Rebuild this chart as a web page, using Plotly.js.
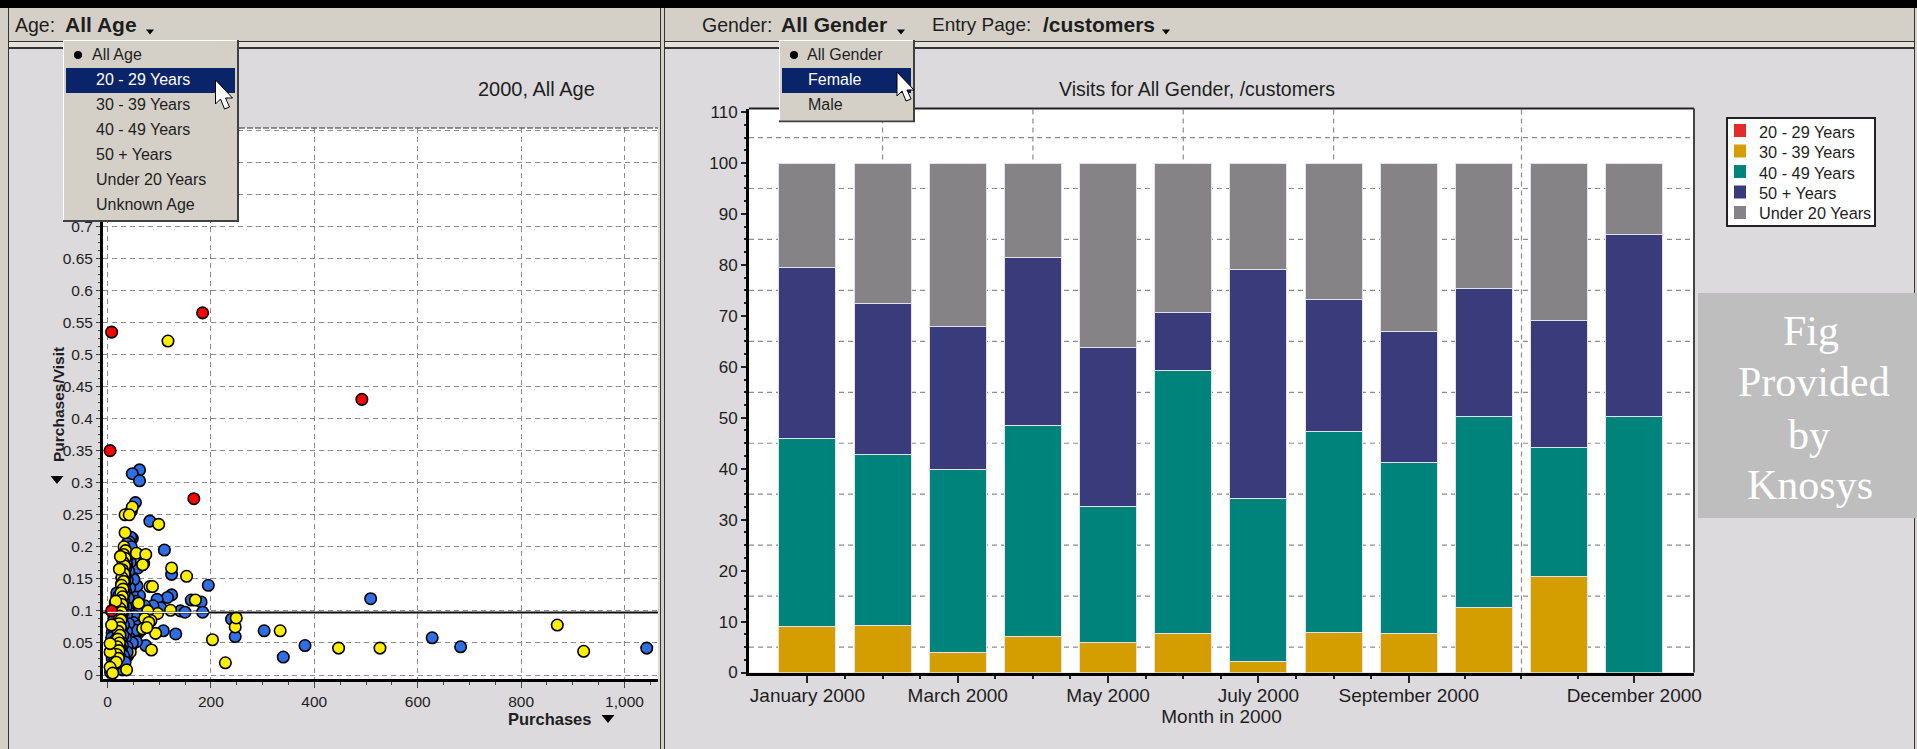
<!DOCTYPE html>
<html>
<head>
<meta charset="utf-8">
<title>Visits and purchases by age, 2000</title>
<script src="https://cdn.plot.ly/plotly-3.0.1.min.js"></script>
<style>html,body{margin:0;padding:0;background:#dcdadd;overflow:hidden}#chart{width:1917px;height:749px}</style>
</head>
<body>
<div id="chart"></div>
<script>
// Monthly share of visits per age band (stacked to 100)
const months = ['January 2000','February 2000','March 2000','April 2000','May 2000','June 2000',
  'July 2000','August 2000','September 2000','October 2000','November 2000','December 2000'];
const ageBands = ['20 - 29 Years','30 - 39 Years','40 - 49 Years','50 + Years','Under 20 Years'];
const bandColors = ['#e32b2b','#d49e00','#00837a','#393b7b','#858385'];
const age20to29 = [0,0,0,0,0,0,0,0,0,0,0,0];
const age30to39 = [9.0,9.3,3.9,7.0,5.9,7.6,2.2,7.9,7.6,12.8,18.9,0];
const age40to49 = [36.9,33.4,35.9,41.4,26.7,51.7,31.9,39.5,33.7,37.5,25.3,50.3];
const age50plus = [33.5,29.7,28.2,33.0,31.2,11.4,45.0,25.9,25.7,25.1,24.8,35.7];
const ageUnder20 = [20.6,27.6,32.0,18.6,36.2,29.3,20.9,26.7,33.0,24.6,31.0,14.0];

// Month axis: labelled ticks, unlabelled ticks and vertical guide lines (month index)
const monthTicks = [0,2,4,6,8,11];
const monthMinorTicks = [0.5,1,1.5,2.5,3,3.5,4.5,5,5.5,6.5,7,7.5,8.75,9.5,10.25];
const monthGuides = [1,3,5,7,9.5];
const shareGuides = [5,15,25,35,45,55,65,75,85,95,105];

// Purchases vs purchases per visit, [purchases, purchases/visit]
const redPoints = [[492,.430],[5,.35],[167,.275],[8,.10],[8,.535],[184,.565]];
// Yellow customers hidden behind the blue ones
const yellowLower = [[36,.198],[38,.188],[34,.176],[30,.165],[36,.160],[28,.152],[33,.150],[27,.142],[31,.138],
  [36,.134],[29,.126],[33,.122],[26,.118],[30,.110],[38,.115],[44,.110],[27,.100],[34,.104],[52,.108],
  [25,.090],[32,.092],[40,.095],[48,.098],[66,.096],[28,.083],[36,.084],[45,.086],[55,.088],[30,.074],[38,.076],
  [47,.078],[58,.080],[27,.063],[34,.064],[42,.066],[52,.068],[60,.066],[31,.054],[38,.055],[46,.056],[54,.058],
  [33,.044],[40,.046],[48,.048],[35,.035],[42,.038],[31,.026],[30,.186],[32,.17],[34,.144],[30,.13],[35,.112],
  [30,.098],[36,.07],[33,.06],[29,.04],[37,.05],[27,.03],[34,.028],[39,.03],[18,.122],[16,.108],[20,.102],[12,.095],
  [18,.092],[14,.085],[16,.070],[14,.060],[12,.052],[8,.042],[15,.040]];
// Tightly packed customers that make up the near-solid column and the wedge below it
const yellowColumn = [[37,.196],[33,.19],[36,.184],[32,.178],[35,.172],[31,.166],[35,.16],[30,.154],[34,.148],[37,.142],
  [30,.14],[33,.134],[36,.128],[29,.128],[33,.122],[37,.116],[28,.116],[32,.11],[36,.104],[27,.104],[31,.098],[35,.092],
  [26,.092],[30,.086],[34,.08],[39,.084],[25,.082],[29,.076],[33,.07],[38,.072],[24,.07],[28,.064],[32,.058],[37,.06],
  [42,.062],[23,.058],[27,.052],[31,.046],[36,.05],[41,.052],[46,.054],[22,.046],[26,.04],[30,.034],[35,.04],[40,.042],
  [45,.044],[50,.05],[21,.036],[25,.03],[29,.024],[34,.03],[39,.032],[44,.036],[20,.026],[24,.02],[28,.016],[33,.022],
  [19,.016],[23,.012],[15,.008],[13,.03],[17,.04]];
const bluePoints = [[62,.32],[48,.314],[62,.303],[54,.269],[46,.256],[82,.24],[110,.195],[124,.157],[195,.14],
  [509,.119],[240,.087],[247,.06],[303,.069],[340,.028],[382,.046],[628,.058],[683,.044],[1043,.042],
  [132,.064],[108,.069],[74,.046],[29,.008],[162,.117],[181,.114],[184,.098],[124,.125],[116,.121],[96,.118],
  [141,.1],[150,.098],[62,.124],[48,.128],[57,.139],[51,.149],[59,.167],[48,.213],[70,.174],[103,.105],[88,.108],
  [45,.215],[42,.208],[38,.205],[46,.20],[44,.176],[41,.162],[43,.136],[18,.128],[22,.124],[15,.112],[21,.108],
  [46,.112],[55,.115],[64,.105],[72,.108],[50,.104],[58,.098],[13,.096],[19,.095],[44,.096],[52,.092],[12,.085],
  [17,.08],[50,.082],[60,.076],[64,.07],[9,.066],[14,.065],[18,.068],[44,.07],[54,.07],[8,.058],[12,.046],[17,.056],
  [42,.058],[56,.052],[10,.04],[15,.036],[48,.05],[9,.026],[14,.024],[10,.012],[17,.018],[6,.004],
  [40,.186],[37,.172],[38,.148],[35,.13],[40,.12],[36,.106],[37,.094],[41,.08],[37,.068],[35,.058],[38,.044],[38,.036]];
// Final layers of the column: closely stacked outlines read as an almost black band
const bandBlue = [[36,.176],[35,.166],[34,.156],[33,.146],[33,.136],[32,.126],[31,.116],[30,.106],[29,.096],[28,.086],
  [31,.078],[27,.07],[30,.062],[26,.054],[29,.046],[25,.042],[28,.034],[31,.03],[24,.028],[27,.022],[34,.02]];
const bandYellow = [[32,.2],[35,.194],[31,.188],[34,.182],[30,.176],[33,.17],[29,.164],[32,.158],[28,.152],[31,.146],
  [27,.14],[30,.134],[26,.128],[29,.122],[25,.116],[28,.11],[24,.104],[27,.098],[23,.092],[26,.086],[22,.08],[25,.074],
  [21,.068],[24,.062],[20,.056],[23,.05],[19,.044],[22,.038],[18,.032],[21,.026],[17,.02]];
const yellowPoints = [[117,.521],[99,.235],[34,.25],[48,.262],[42,.25],[34,.222],[124,.167],[153,.154],[82,.138],[87,.138],
  [56,.19],[74,.188],[25,.185],[23,.165],[16,.115],[203,.055],[228,.019],[247,.075],[249,.089],[334,.069],
  [447,.042],[527,.042],[870,.078],[921,.037],[93,.065],[85,.039],[37,.008],[5,.036],[5,.049],[8,.078],[5,.012],
  [10,.003],[122,.101],[97,.096],[170,.117],[68,.172],[78,.1],[84,.085],
  [60,.112],[72,.088],[80,.082],[68,.072],[76,.074]];
const referenceRate = 0.0977;

// Drop-down menu entries
const ageMenu = ['All Age','20 - 29 Years','30 - 39 Years','40 - 49 Years','50 + Years','Under 20 Years','Unknown Age'];
const genderMenu = ['All Gender','Female','Male'];
const creditLines = ['Fig','Provided','by','Knosys'];

const W = 1917, H = 749;
const SANS = '"Liberation Sans", Arial, sans-serif';
const SERIF = '"Liberation Serif", "Times New Roman", serif';
const INK = '#1e1e1e', GUIDE = '#8c8c8c', CHROME = '#d4d0c8', PANEL = '#dcdadd', HILITE = '#0a246a';
const fx = x => x / W, fy = y => 1 - y / H;

// Window furniture is laid out in page pixels and converted to paper fractions
function box(x0, y0, x1, y1, fill, line, width) {
  return {type:'rect', xref:'paper', yref:'paper', layer:'above', x0:fx(x0), x1:fx(x1), y0:fy(y1), y1:fy(y0),
    fillcolor:fill, line:{color:line || fill, width:line ? (width || 1) : 0}};
}
function poly(points, fill, line) {
  const d = points.map((p, i) => (i ? 'L' : 'M') + fx(p[0]) + ' ' + fy(p[1])).join(' ') + ' Z';
  return {type:'path', xref:'paper', yref:'paper', layer:'above', path:d, fillcolor:fill,
    line:{color:line || fill, width:line ? 1 : 0}};
}
function caret(x, y, w) { return poly([[x - w, y - w * 0.6], [x + w, y - w * 0.6], [x, y + w * 0.6]], '#000'); }
function pointer(x, y) {
  return poly([[x,y],[x,y+24],[x+5,y+19],[x+9,y+29],[x+14,y+27],[x+10,y+18],[x+17,y+18]], '#fff', '#000');
}
function label(text, x, y, size, opts) {
  return Object.assign({text, xref:'paper', yref:'paper', x:fx(x), y:fy(y), showarrow:false, xanchor:'left', yanchor:'middle',
    font:{family:SANS, size, color:INK}}, opts || {});
}
const bold = s => '<b>' + s + '</b>';

function menu(x0, x1, entries, textX, firstX, bulletX) {
  const rowH = 24.9, top = 40, bottom = 55 + (entries.length - 1) * rowH + 16.5;
  const shapes = [
    box(x0, top, x1 + 1, bottom + 1, '#404040'),
    box(x0, top, x1 - 1, bottom - 1, '#ffffff'),
    box(x0 + 1, top + 1, x1 - 1, bottom - 1, CHROME),
    box(x0 + 3, 68, x1 - 3, 93, HILITE),
    {type:'circle', xref:'paper', yref:'paper', layer:'above', fillcolor:'#000', line:{width:0},
      x0:fx(bulletX - 4), x1:fx(bulletX + 4), y0:fy(59), y1:fy(51)}
  ];
  const notes = entries.map((e, i) => label(e, i ? textX : firstX, 55 + i * rowH, 16,
    {font:{family:SANS, size:16, color:i === 1 ? '#ffffff' : INK}}));
  return {shapes, notes};
}
const ageDrop = menu(63, 238, ageMenu, 94, 90, 78);
const genderDrop = menu(779, 914, genderMenu, 806, 805, 794);

const frame = [
  box(0, 0, W, 8, '#000000'),
  box(0, 8, W, 41, CHROME),
  box(0, 41, W, 48, '#e4e1da'),
  box(0, 8, 8, H, CHROME),
  box(661, 8, 664, H, CHROME),
  box(1915, 8, W, H, CHROME),
  box(8, 41, 661, 42, '#333333'),
  box(664, 41, 1915, 42, '#333333'),
  box(8, 47, 661, 49, '#333333'),
  box(664, 47, 1915, 49, '#333333'),
  box(8, 8, 9, H, '#333333'),
  box(660, 8, 661, H, '#333333'),
  box(664, 8, 665, H, '#333333'),
  box(1914, 8, 1915, H, '#333333')
];

// Colour key beside the column chart
const keyShapes = [box(1727, 118, 1875, 226, '#ffffff', '#222222', 2)]
  .concat(ageBands.map((_, i) => box(1734, 124 + i * 20.5, 1746, 137 + i * 20.5, bandColors[i])));
const keyNotes = ageBands.map((b, i) => label(b, 1757, 131.5 + i * 20.5, 16.3));

const monthIndex = months.map((_, i) => i);
function stack(k, values, lineWidth) {
  const name = ageBands[k];
  return {type:'bar', name, x:monthIndex, y:values, xaxis:'x2', yaxis:'y2', width:0.76, showlegend:false,
    marker:{color:bandColors[k], line:{color:'#e2e2ea', width:lineWidth}}, customdata:months,
    hovertemplate:'%{customdata}: %{y}<extra>'+name+'</extra>'};
}
function dots(points, color) {
  return {type:'scatter', mode:'markers', showlegend:false, x:points.map(p => p[0]), y:points.map(p => p[1]), xaxis:'x', yaxis:'y',
    cliponaxis:true, marker:{color, size:11.5, symbol:'circle', line:{color:'#000', width:1.6}}, hoverinfo:'x+y'};
}

const traces = [
  dots(yellowLower, '#ffee00'),
  dots(yellowColumn, '#ffee00'),
  dots(bluePoints, '#2e6fe6'),
  dots(bandBlue, '#2e6fe6'),
  dots(bandYellow, '#ffee00'),
  dots(yellowPoints, '#ffee00'),
  dots(redPoints, '#ff0000'),
  stack(0, age20to29, 0),
  stack(1, age30to39, 1),
  stack(2, age40to49, 1),
  stack(3, age50plus, 1),
  stack(4, ageUnder20, 1)
];

const dashed = {color:GUIDE, width:1.2, dash:'5px,4px'};
const shapes = [].concat(
  monthGuides.map(v => ({type:'line', xref:'x2', yref:'y2 domain', layer:'below', x0:v, x1:v, y0:0, y1:1, line:dashed})),
  shareGuides.map(v => ({type:'line', xref:'x2 domain', yref:'y2', layer:'below', x0:0, x1:1, y0:v, y1:v, line:dashed})),
  frame,
  [
    // Reference line in the scatter, lighter where it crosses the point cloud
    {type:'line', xref:'x', yref:'y', layer:'above', x0:-8.7, x1:1064.8, y0:referenceRate, y1:referenceRate, line:{color:'#111', width:2}},
    {type:'line', xref:'x', yref:'y', layer:'above', x0:0, x1:195, y0:referenceRate, y1:referenceRate, line:{color:'#f0f0f0', width:1.2}},
    // Plot top edges and the right edge of the column chart
    {type:'line', xref:'x domain', yref:'y domain', layer:'above', x0:0, x1:1, y0:1, y1:1, line:{color:'#333', width:1.2, dash:'6px,2px'}},
    {type:'line', xref:'x2 domain', yref:'y2 domain', layer:'above', x0:0, x1:1, y0:1, y1:1, line:{color:'#222', width:2}},
    {type:'line', xref:'x2 domain', yref:'y2 domain', layer:'above', x0:1, x1:1, y0:0, y1:1, line:{color:'#444', width:2}},
    box(1698, 293, W, 518, '#bebebe'),
    caret(150, 32, 4), caret(901, 32, 4), caret(1166, 32, 4),
    caret(608, 719, 6.5), caret(57, 480, 6.5)
  ],
  keyShapes,
  ageDrop.shapes, genderDrop.shapes,
  [pointer(215.5, 80), pointer(897, 72)]
);

const annotations = [].concat(
  [
    label('Age:', 13, 25, 19.5),
    label(bold('All Age'), 63, 25, 21),
    label('Gender:', 700, 25, 19.5),
    label(bold('All Gender'), 779, 25, 21),
    label('Entry Page:', 930, 25, 19),
    label(bold('/customers'), 1041, 25, 21),
    label('2000, All Age', 536, 89, 20, {xanchor:'center'}),
    label('Visits for All Gender, /customers', 1197, 89, 19.5, {xanchor:'center'}),
    label(bold('Purchases'), 549, 719, 16.5, {xanchor:'center'}),
    label(bold('Purchases/Visit'), 58, 405, 15.5, {xanchor:'center', textangle:-90})
  ],
  creditLines.map((t, i) => label(t, [1811,1814,1809,1810][i], [331,382,435,485][i], 42,
    {xanchor:'center', font:{family:SERIF, size:42, color:'#ffffff'}})),
  keyNotes,
  ageDrop.notes, genderDrop.notes
);

const layout = {
  width:W, height:H, margin:{l:0, r:0, t:0, b:0}, autosize:false,
  paper_bgcolor:PANEL, plot_bgcolor:'#ffffff', barmode:'stack', showlegend:false, hovermode:'closest',
  font:{family:SANS, color:INK},
  xaxis:{domain:[fx(103), fx(658)], range:[-8.7, 1064.8], anchor:'y', tickmode:'array',
    tickvals:[0,200,400,600,800,1000], ticktext:['0','200','400','600','800','1,000'],
    showgrid:true, gridcolor:GUIDE, gridwidth:1.2, griddash:'5px,4px', zeroline:false,
    showline:true, linecolor:'#000', linewidth:3, ticks:'outside', ticklen:6, tickcolor:'#444', tickwidth:1,
    tickfont:{family:SANS, size:15.5, color:INK},
    minor:{dtick:50, ticks:'outside', ticklen:3, tickcolor:'#444', tickwidth:1, showgrid:false}},
  yaxis:{domain:[fy(679), fy(128)], range:[-0.00624, 0.8534], anchor:'x', dtick:0.05, tick0:0,
    showgrid:true, gridcolor:GUIDE, gridwidth:1.2, griddash:'5px,4px', zeroline:false,
    showline:true, linecolor:'#000', linewidth:3, ticks:'outside', ticklen:4, tickcolor:'#444', tickwidth:1,
    tickfont:{family:SANS, size:15.5, color:INK},
    minor:{dtick:0.0125, ticks:'outside', ticklen:2, tickcolor:'#444', tickwidth:1, showgrid:false}},
  xaxis2:{domain:[fx(749), fx(1694)], range:[-0.777, 11.795], anchor:'y2', tickmode:'array',
    tickvals:monthTicks, ticktext:monthTicks.map(i => months[i]), showgrid:false, zeroline:false,
    showline:true, linecolor:'#000', linewidth:3, ticks:'outside', ticklen:7, tickcolor:'#222', tickwidth:1.5,
    ticklabelstandoff:-3,
    tickfont:{family:SANS, size:19, color:INK}, title:{text:'Month in 2000', font:{family:SANS, size:19, color:INK}, standoff:4},
    minor:{tickmode:'array', tickvals:monthMinorTicks, ticks:'outside', ticklen:3, tickcolor:'#222', tickwidth:1.5, showgrid:false}},
  yaxis2:{domain:[fy(672.5), fy(108.5)], range:[0, 110.7], anchor:'x2', dtick:10, tick0:0, showgrid:false, zeroline:false,
    showline:true, linecolor:'#000', linewidth:3, ticks:'outside', ticklen:5, tickcolor:'#222', tickwidth:1.5,
    tickfont:{family:SANS, size:17, color:INK},
    minor:{dtick:2.5, ticks:'outside', ticklen:2.5, tickcolor:'#222', tickwidth:1.5, showgrid:false}},
  shapes, annotations
};

Plotly.newPlot('chart', traces, layout, {displayModeBar:false, responsive:false});
</script>
</body>
</html>
